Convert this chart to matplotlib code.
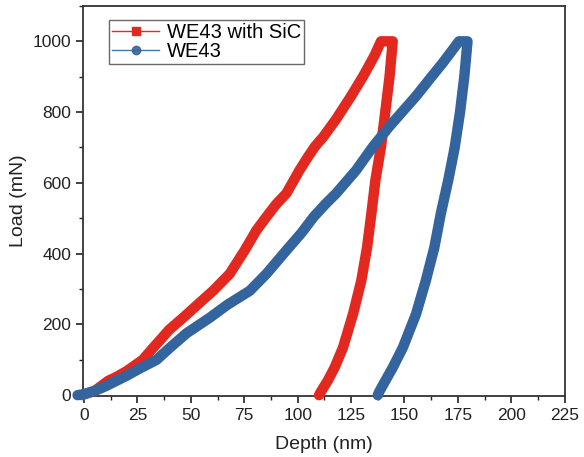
import matplotlib
matplotlib.use('Agg')
import matplotlib.pyplot as plt
from matplotlib.lines import Line2D
from matplotlib.ticker import MultipleLocator

plt.rcParams['font.family'] = ['Liberation Sans', 'DejaVu Sans']

# WE43 with SiC: loading, hold, unloading
sic_depth = [-1, 0, 5, 11.2, 15.3, 20, 27.5, 32.4, 39.9, 46.4, 53, 60.4, 68.2, 75.2, 80.7,
             85.4, 90, 94.7, 100.9, 105, 108, 112, 118, 125, 131, 136, 139,
             144.5, 143, 141, 139, 136.4, 134.5, 132.5, 129.8, 125.9, 121.2, 117.3, 114, 111, 110]
sic_load = [0, 2, 12, 40, 52, 68, 100, 134, 185, 219, 255, 295, 343, 409, 466,
            504, 540, 570, 636, 675, 702, 730, 780, 845, 905, 960, 1000,
            1000, 900, 800, 702, 608, 513, 418, 324, 229, 134, 78, 40, 11, 0]

# WE43
we_depth = [-3, 0, 5, 10, 15, 20, 26, 34, 40.2, 48, 58.9, 67, 77.6, 85.4, 94.7, 102,
            107.5, 113, 118, 127.4, 135.2, 143, 155.4, 162, 167.9, 175.5,
            179.5, 178, 176, 173.5, 170.5, 167, 164, 160, 155.4, 149.2, 144.5, 140.5, 138.3, 137.5]
we_load = [0, 3, 12, 25, 40, 55, 75, 100, 134, 175, 219, 255, 295, 343, 409, 460,
           504, 540, 570, 636, 702, 760, 845, 895, 939, 1000,
           1000, 900, 800, 700, 608, 513, 418, 324, 229, 134, 78, 35, 11, 0]

red = '#e3281f'
blue = '#33649e'

fig = plt.figure(figsize=(5.84, 4.57), dpi=100)
ax = fig.add_axes([0.142, 0.133, 0.825, 0.854])

ax.plot(sic_depth, sic_load, color=red, lw=7.5, solid_capstyle='round',
        solid_joinstyle='round', clip_on=False, zorder=3)
ax.plot(we_depth, we_load, color=blue, lw=7.5, solid_capstyle='round',
        solid_joinstyle='round', clip_on=False, zorder=3)

ax.set_xlim(-0.5, 225)
ax.set_ylim(-3, 1100)
ax.xaxis.set_major_locator(MultipleLocator(25))
ax.xaxis.set_minor_locator(MultipleLocator(12.5))
ax.yaxis.set_major_locator(MultipleLocator(200))
ax.yaxis.set_minor_locator(MultipleLocator(100))
ax.tick_params(which='major', direction='out', length=5, width=1.2, labelsize=12.5, colors='#222222')
ax.tick_params(which='minor', direction='out', length=3, width=1.0, colors='#222222')
for s in ax.spines.values():
    s.set_linewidth(1.3)
    s.set_color('#333333')

ax.set_xlabel('Depth (nm)', fontsize=14, color='#222222', labelpad=9)
ax.set_ylabel('Load (mN)', fontsize=14, color='#222222', labelpad=4)

handles = [Line2D([], [], color=red, lw=1, marker='s', ms=6),
           Line2D([], [], color=blue, lw=1, marker='o', ms=6, alpha=0.9)]
leg = ax.legend(handles, ['WE43 with SiC', 'WE43'], loc='upper left',
                bbox_to_anchor=(0.055, 0.965), fontsize=14.5, frameon=True,
                fancybox=False, handlelength=2.3, borderpad=0.15,
                labelspacing=0.0, handletextpad=0.4, borderaxespad=0)
leg.get_frame().set_edgecolor('#444444')
leg.get_frame().set_linewidth(1.0)

fig.savefig('out.png', dpi=100)
